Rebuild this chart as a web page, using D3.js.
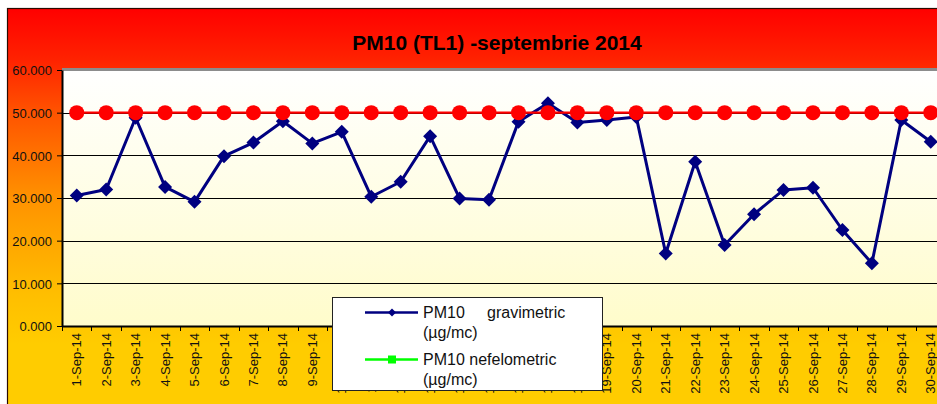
<!DOCTYPE html>
<html>
<head>
<meta charset="utf-8">
<script src="https://d3js.org/d3.v7.min.js"></script>
<style>
  body { margin: 0; background: #fff; }
  svg { display: block; font-family: Arial, "Liberation Sans", sans-serif; }
</style>
</head>
<body>
<div id="chart"></div>
<script>
// chart data
var days = ["1-Sep-14","2-Sep-14","3-Sep-14","4-Sep-14","5-Sep-14","6-Sep-14","7-Sep-14","8-Sep-14","9-Sep-14","10-Sep-14",
            "11-Sep-14","12-Sep-14","13-Sep-14","14-Sep-14","15-Sep-14","16-Sep-14","17-Sep-14","18-Sep-14","19-Sep-14","20-Sep-14",
            "21-Sep-14","22-Sep-14","23-Sep-14","24-Sep-14","25-Sep-14","26-Sep-14","27-Sep-14","28-Sep-14","29-Sep-14","30-Sep-14"];
var gravimetric = [30.6, 32.0, 48.8, 32.6, 29.1, 39.8, 43.0, 48.0, 42.8, 45.5,
                   30.3, 33.8, 44.5, 29.9, 29.6, 47.9, 52.2, 47.7, 48.3, 49.0,
                   17.0, 38.5, 19.0, 26.2, 31.9, 32.4, 22.5, 14.7, 48.3, 43.2];
var limitValues = [50, 50, 50, 50, 50, 50, 50, 50, 50, 50,
                   50, 50, 50, 50, 50, 50, 50, 50, 50, 50,
                   50, 50, 50, 50, 50, 50, 50, 50, 50, 50];
var yTicks = [0, 10, 20, 30, 40, 50, 60];
var chartTitle = "PM10 (TL1) -septembrie 2014";

const W = 937, H = 404;
const plot = { left: 62, top: 70, bottom: 326, band: 29.45 };

var svg = d3.select("#chart").append("svg")
    .attr("width", W).attr("height", H);

var defs = svg.append("defs");
// outer background gradient, red -> yellow
var bg = defs.append("linearGradient").attr("id", "bgGrad")
    .attr("gradientUnits", "userSpaceOnUse")
    .attr("x1", 0).attr("y1", 8).attr("x2", 0).attr("y2", 404);
[[0, "#FF0000"], [0.13, "#FF2200"], [0.26, "#FF5200"], [0.48, "#FF9200"], [0.72, "#FFBE00"], [0.85, "#FFCC00"], [1, "#FFCC00"]]
  .forEach(function(s) { bg.append("stop").attr("offset", s[0]).attr("stop-color", s[1]); });

// plot area gradient, white -> pale yellow
var pg = defs.append("linearGradient").attr("id", "plotGrad")
    .attr("x1", 0).attr("y1", 0).attr("x2", 0).attr("y2", 1);
pg.append("stop").attr("offset", 0).attr("stop-color", "#FFFFFF");
pg.append("stop").attr("offset", 1).attr("stop-color", "#FFFCCB");

svg.append("rect")
    .attr("x", 7.5).attr("y", 8.5).attr("width", 1000).attr("height", 500)
    .attr("fill", "url(#bgGrad)").attr("stroke", "#2a0a00").attr("stroke-width", 1.2);

// scales
var x = d3.scaleBand()
    .domain(days)
    .range([plot.left, plot.left + days.length * plot.band]);
var y = d3.scaleLinear()
    .domain([0, 60])
    .range([plot.bottom, plot.top]);

// plot area
svg.append("rect")
    .attr("x", plot.left).attr("y", plot.top)
    .attr("width", days.length * plot.band).attr("height", plot.bottom - plot.top)
    .attr("fill", "url(#plotGrad)");

// gridlines
svg.append("g").selectAll("line")
    .data(yTicks.filter(function(d) { return d > 0 && d < 60; }))
    .enter().append("line")
    .attr("x1", plot.left).attr("x2", W + 20)
    .attr("y1", function(d) { return Math.round(y(d)) + 0.5; })
    .attr("y2", function(d) { return Math.round(y(d)) + 0.5; })
    .attr("stroke", "#000").attr("stroke-width", 1);

// gray top border of plot area
svg.append("line")
    .attr("x1", plot.left).attr("x2", W + 20)
    .attr("y1", plot.top - 0.5).attr("y2", plot.top - 0.5)
    .attr("stroke", "#8c8c8c").attr("stroke-width", 3);

// y axis
var yAxis = svg.append("g")
    .attr("transform", "translate(" + plot.left + ",0)")
    .call(d3.axisLeft(y).tickValues(yTicks).tickSize(5).tickSizeOuter(0)
        .tickFormat(d3.format(".3f")));
yAxis.select(".domain").attr("stroke", "#000").attr("stroke-width", 2);
yAxis.selectAll(".tick line").attr("stroke", "#000");
yAxis.selectAll("text")
    .attr("x", -10).attr("dy", "0.36em")
    .style("font-size", "13px").style("font-family", "Arial, 'Liberation Sans', sans-serif")
    .attr("fill", "#111");

// x axis
var xAxis = svg.append("g")
    .attr("transform", "translate(0," + plot.bottom + ")")
    .call(d3.axisBottom(x).tickSize(0).tickSizeOuter(0));
xAxis.select(".domain").attr("stroke", "#000").attr("stroke-width", 2);
xAxis.selectAll(".tick text")
    .attr("transform", "rotate(-90)")
    .attr("x", -7).attr("y", 0).attr("dy", "0.35em")
    .style("text-anchor", "end")
    .style("font-size", "13px").style("font-family", "Arial, 'Liberation Sans', sans-serif")
    .attr("fill", "#111");
// category separator ticks
svg.append("g").selectAll("line")
    .data(days)
    .enter().append("line")
    .attr("x1", function(d) { return Math.round(x(d)) + 0.5; })
    .attr("x2", function(d) { return Math.round(x(d)) + 0.5; })
    .attr("y1", plot.bottom).attr("y2", plot.bottom + 5)
    .attr("stroke", "#000");

// gravimetric series
var gravData = days.map(function(d, i) { return { day: d, v: gravimetric[i] }; });
var limitData = days.map(function(d, i) { return { day: d, v: limitValues[i] }; });
var cx = function(d) { return x(d.day) + x.bandwidth() / 2; };

svg.append("path")
    .datum(gravData)
    .attr("fill", "none").attr("stroke", "#000080").attr("stroke-width", 3)
    .attr("stroke-linejoin", "round")
    .attr("d", d3.line().x(cx).y(function(d) { return y(d.v); }));
svg.append("g").selectAll("path")
    .data(gravData)
    .enter().append("path")
    .attr("transform", function(d) { return "translate(" + cx(d) + "," + y(d.v) + ")"; })
    .attr("d", "M0,-7L7,0L0,7L-7,0Z")
    .attr("fill", "#000080");

// limit series
svg.append("path")
    .datum(limitData)
    .attr("fill", "none").attr("stroke", "#FF0000").attr("stroke-width", 2.2)
    .attr("d", d3.line().x(cx).y(function(d) { return y(d.v); }));
svg.append("g").selectAll("circle")
    .data(limitData)
    .enter().append("circle")
    .attr("cx", cx).attr("cy", function(d) { return y(d.v); })
    .attr("r", 7.5)
    .attr("fill", "#FF0000");

// title
svg.append("text")
    .attr("x", 497).attr("y", 50)
    .attr("text-anchor", "middle")
    .style("font-size", "21px").style("font-weight", "bold")
    .text(chartTitle);

// legend
var lg = svg.append("g");
lg.append("rect")
    .attr("x", 332.5).attr("y", 297.5).attr("width", 270).attr("height", 93)
    .attr("fill", "#fff").attr("stroke", "#222").attr("stroke-width", 1);
lg.append("line").attr("x1", 365).attr("x2", 418).attr("y1", 312.5).attr("y2", 312.5)
    .attr("stroke", "#000080").attr("stroke-width", 2.5);
lg.append("path").attr("transform", "translate(392,312.5)")
    .attr("d", "M0,-4L4,0L0,4L-4,0Z").attr("fill", "#000080");
lg.append("line").attr("x1", 365).attr("x2", 418).attr("y1", 359.5).attr("y2", 359.5)
    .attr("stroke", "#00FF00").attr("stroke-width", 2.5);
lg.append("rect").attr("x", 388).attr("y", 355.5).attr("width", 8).attr("height", 8)
    .attr("fill", "#00FF00");

var legendText = [
  { x: 423, y: 318, t: "PM10" },
  { x: 487, y: 318, t: "gravimetric" },
  { x: 423, y: 338, t: "(µg/mc)" },
  { x: 423, y: 365, t: "PM10 nefelometric" },
  { x: 423, y: 385, t: "(µg/mc)" }
];
lg.selectAll("text.lt")
    .data(legendText)
    .enter().append("text")
    .attr("class", "lt")
    .attr("x", function(d) { return d.x; }).attr("y", function(d) { return d.y; })
    .style("font-size", "16px").attr("fill", "#111")
    .text(function(d) { return d.t; });
</script>
</body>
</html>
